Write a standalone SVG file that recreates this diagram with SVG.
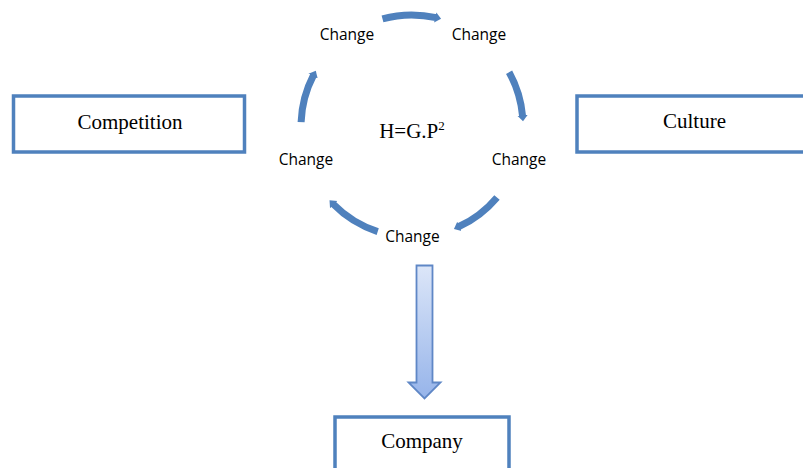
<svg xmlns="http://www.w3.org/2000/svg" width="803" height="468" viewBox="0 0 803 468">
<defs>
<style>
.box{fill:#FFFFFF;stroke:#4F81BD;stroke-width:3.5}
.serif{font-family:"Liberation Serif","Times New Roman",serif;font-size:21px;fill:#000000;text-anchor:middle}
.lbl{font-family:"Open Sans","Liberation Sans",sans-serif;font-size:15.5px;fill:#000000;text-anchor:middle}
.arc{fill:none;stroke:#4F81BD;stroke-width:7;marker-end:url(#head)}
</style>
<marker id="head" markerUnits="userSpaceOnUse" markerWidth="14" markerHeight="14" viewBox="0 0 14 14" refX="1" refY="7" orient="auto">
<path d="M0,1.8 L6,7 L0,12.2 Z" fill="#4F81BD"/>
</marker>
<linearGradient id="grad" x1="0" y1="0" x2="0" y2="1">
<stop offset="0" stop-color="#DCE6F8"/>
<stop offset="1" stop-color="#96B4EA"/>
</linearGradient>
</defs>
<g id="connectors">
<path class="arc" d="M382.5,18.8 A111,111 0 0 1 436.2,17.7"/>
<path class="arc" d="M509.1,72.2 A111,111 0 0 1 522.6,116.3"/>
<path class="arc" d="M497,197.4 A111,111 0 0 1 458.5,226.8"/>
<path class="arc" d="M377.7,231.6 A111,111 0 0 1 333.0,203.9"/>
<path class="arc" d="M301.1,122.1 A111,111 0 0 1 313.5,75.2"/>
<path id="down-arrow" d="M416.5,265.5 L432.5,265.5 L432.5,382.5 L440.5,382.5 L424.5,398.5 L408.5,382.5 L416.5,382.5 Z" fill="url(#grad)" stroke="#5F87C6" stroke-width="1.8"/>
</g>
<g id="competition">
<rect class="box" x="13.5" y="96" width="231" height="56"/>
<text class="serif" x="130" y="128.5">Competition</text>
</g>
<g id="culture">
<rect class="box" x="577" y="96" width="240" height="56"/>
<text class="serif" x="694.5" y="128">Culture</text>
</g>
<g id="company">
<rect class="box" x="335" y="417" width="174" height="70"/>
<text class="serif" x="422" y="448">Company</text>
</g>
<g id="formula">
<text class="serif" x="412" y="137.5" font-size="20">H=G.P<tspan font-size="13" dy="-8">2</tspan></text>
</g>
<g id="change-top-left"><text class="lbl" x="347" y="40">Change</text></g>
<g id="change-top-right"><text class="lbl" x="479" y="40">Change</text></g>
<g id="change-right"><text class="lbl" x="519" y="165">Change</text></g>
<g id="change-bottom"><text class="lbl" x="412.5" y="241.5">Change</text></g>
<g id="change-left"><text class="lbl" x="306" y="165">Change</text></g>
</svg>
